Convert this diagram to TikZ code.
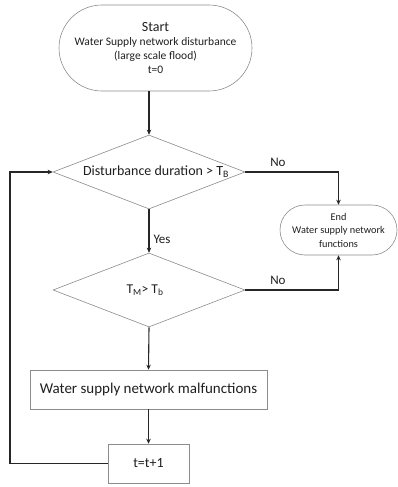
\documentclass[tikz,border=0pt]{standalone}
\usepackage{fontspec}
\setmainfont{Carlito}
\usetikzlibrary{shapes.geometric,shapes.misc,arrows.meta}
\begin{document}
\begin{tikzpicture}[x=1pt,y=-1pt,
  box/.style={draw=black!45, line width=0.6pt, text=black!88, align=center, inner sep=0pt},
  term/.style={box, rounded rectangle},
  dec/.style={box, diamond, aspect=2.6},
  rect/.style={box, rectangle},
  arr/.style={draw=black!85, line width=1.1pt, -{Stealth[length=5pt,width=4.5pt]}},
  lab/.style={text=black!88, font=\fontsize{13}{15}\selectfont, inner sep=0pt}]
\useasboundingbox (0,0) rectangle (397,487);
\node[term, minimum width=193pt, minimum height=86pt, font=\fontsize{11.5}{14}\selectfont] (start) at (155.5,48)
  {{\fontsize{14}{15}\selectfont Start}\\Water Supply network disturbance\\(large scale flood)\\t=0};
\node[dec, minimum width=192pt, minimum height=74pt, font=\fontsize{14}{16}\selectfont] (d1) at (149,172)
  {\hspace*{14pt}Disturbance duration > T\textsubscript{B}};
\node[dec, minimum width=192pt, minimum height=74pt, font=\fontsize{13.5}{16}\selectfont] (d2) at (149,290)
  {T\textsubscript{M}> T\textsubscript{b}\hspace*{8pt}};
\node[term, minimum width=117pt, minimum height=50pt, font=\fontsize{10.3}{13.5}\selectfont] (end) at (338.5,230)
  {End\\Water supply network\\functions};
\node[rect, minimum width=237pt, minimum height=39pt, font=\fontsize{15}{17}\selectfont] (mal) at (148.5,389.5)
  {Water supply network malfunctions};
\node[rect, minimum width=81pt, minimum height=39pt, font=\fontsize{14}{16}\selectfont] (inc) at (148.5,463.5)
  {t=t+1};
\coordinate (loop) at (10,463.5);
\draw[arr] (start.south -| d1.north) -- (d1.north);
\draw[arr] (d1.south) -- node[lab, right=4pt, pos=0.7] {Yes} (d2.north);
\draw[arr] (d1.east) -- node[lab, above=5pt, pos=0.35] {No} (d1.east -| end.north) -- (end.north);
\draw[arr] (d2.east) -- node[lab, above=5pt, pos=0.35] {No} (d2.east -| end.south) -- (end.south);
\draw[arr] (d2.south) -- (mal.north);
\draw[arr] (mal.south -| inc.north) -- (inc.north);
\draw[arr] (inc.west) -- (loop) |- (d1.west);
\end{tikzpicture}
\end{document}
